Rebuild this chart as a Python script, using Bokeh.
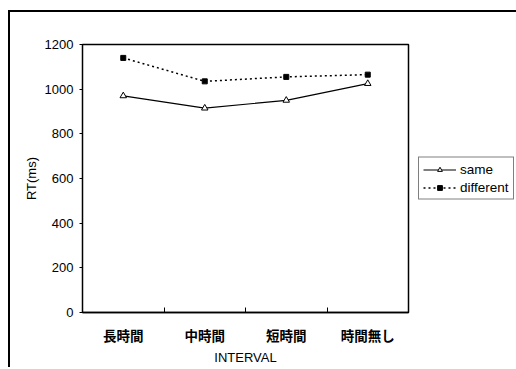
from bokeh.plotting import figure
from bokeh.models import Range1d, FixedTicker, Legend, LegendItem
from bokeh.embed import file_html
from bokeh.resources import INLINE

categories = ["長時間", "中時間", "短時間", "時間無し"]
same = [970, 915, 950, 1025]
different = [1140, 1035, 1055, 1065]
y_ticks = [0, 200, 400, 600, 800, 1000, 1200]

xs = [i + 0.5 for i in range(len(categories))]

p = figure(frame_width=326, frame_height=268, output_backend="svg", toolbar_location=None,
           x_range=Range1d(0, len(categories)), y_range=Range1d(0, 1200),
           min_border_left=72, min_border_top=32, min_border_right=96, min_border_bottom=50)
p.styles = {"border-left": "2px solid black", "border-top": "2px solid black"}
p.margin = (10, 0, 0, 8)
p.xgrid.visible = False
p.ygrid.visible = False
p.outline_line_color = "black"
p.outline_line_width = 1.5
p.background_fill_color = "white"
p.border_fill_color = "white"

font = "Liberation Sans"
jfont = "Noto Sans CJK JP"

p.xaxis.ticker = FixedTicker(ticks=xs, minor_ticks=[1, 2, 3])
p.xaxis.major_label_overrides = {x: c for x, c in zip(xs, categories)}
p.xaxis.major_tick_line_color = None
p.xaxis.minor_tick_in = 5
p.xaxis.minor_tick_out = 0
p.xaxis.axis_line_width = 1.5
p.xaxis.major_label_text_font = jfont
p.xaxis.major_label_text_font_size = "13.5px"
p.xaxis.major_label_text_font_style = "bold"
p.xaxis.major_label_text_color = "black"
p.xaxis.major_label_standoff = 6
p.xaxis.axis_label = "INTERVAL"
p.xaxis.axis_label_text_font = font
p.xaxis.axis_label_text_font_size = "13px"
p.xaxis.axis_label_text_font_style = "normal"
p.xaxis.axis_label_text_color = "black"
p.xaxis.axis_label_standoff = 2

p.yaxis.ticker = FixedTicker(ticks=y_ticks)
p.yaxis.major_tick_in = 0
p.yaxis.major_tick_out = 3
p.yaxis.minor_tick_line_color = None
p.yaxis.major_label_text_font = font
p.yaxis.major_label_text_font_size = "13px"
p.yaxis.major_label_text_color = "black"
p.yaxis.major_label_standoff = 6
p.yaxis.axis_label = "RT(ms)"
p.yaxis.axis_label_text_font = font
p.yaxis.axis_label_text_font_size = "13px"
p.yaxis.axis_label_text_font_style = "normal"
p.yaxis.axis_label_text_color = "black"
p.yaxis.axis_label_standoff = 3

l1 = p.line(xs, same, line_color="black", line_width=1.2)
m1 = p.scatter(xs, same, marker="triangle", size=6.5, line_color="black", fill_color="white")
l2 = p.line(xs, different, line_color="black", line_width=1.5, line_dash="2 3")
m2 = p.scatter(xs, different, marker="square", size=5, line_color="black", fill_color="black")

legend = Legend(items=[LegendItem(label="same", renderers=[l1, m1]),
                       LegendItem(label="different", renderers=[l2, m2])],
                location="left", border_line_color="black", border_line_width=1.2,
                background_fill_alpha=1, label_text_font=font, label_text_font_size="13.5px",
                label_text_color="black",
                glyph_width=33, glyph_height=12, spacing=3, padding=4, margin=10,
                label_standoff=4, label_height=15)
p.add_layout(legend, "right")

open("out.html", "w").write(file_html(p, INLINE))
